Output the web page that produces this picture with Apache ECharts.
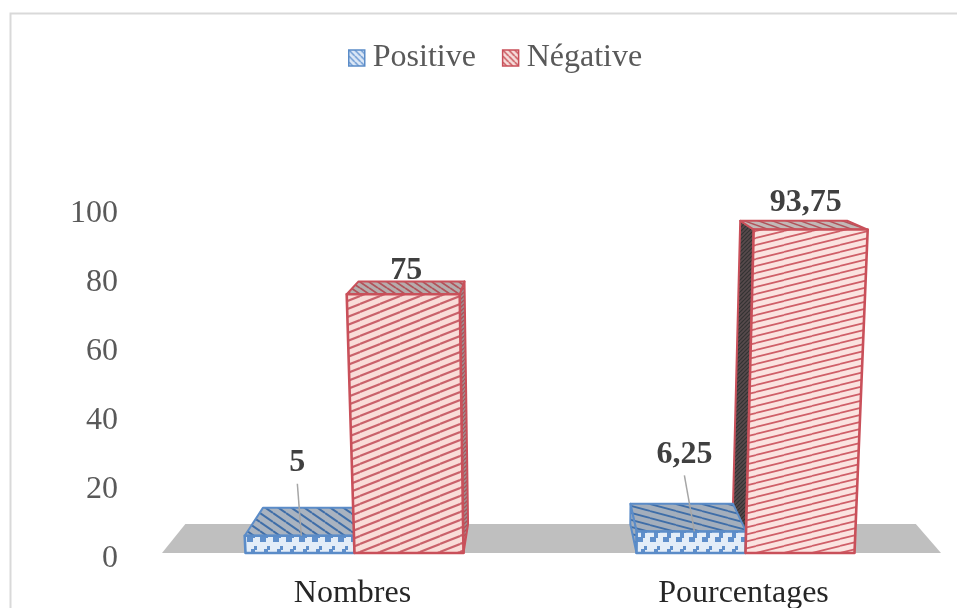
<!DOCTYPE html>
<html>
<head>
<meta charset="utf-8">
<style>html,body{margin:0;padding:0;background:#fff}#c{width:957px;height:608px}</style>
<script src="https://cdn.jsdelivr.net/npm/echarts@6/dist/echarts.min.js"></script>
</head>
<body>
<div id="c"></div>
<script>
var categories = ['Nombres', 'Pourcentages'];
var positive = [5, 6.25];
var negative = [75, 93.75];
var yTicks = [0, 20, 40, 60, 80, 100];

var FONT = '"Liberation Serif","Times New Roman",serif';
var LEAN_X = 567, DEPTH_X = 537, HORIZON_Y = 88, DEPTH = 0.0623, LEAN = 0.00049, BAR_W = 109, BAR_GAP = 2;

function tile(w, h, bg, line, lw, draw) {
  var c = document.createElement('canvas');
  c.width = w; c.height = h;
  var g = c.getContext('2d');
  g.fillStyle = bg; g.fillRect(0, 0, w, h);
  g.strokeStyle = line; g.fillStyle = line; g.lineWidth = lw;
  draw(g, w, h);
  return { image: c, repeat: 'repeat' };
}
function rising(g, w, h) {
  for (var i = -1; i <= 1; i++) {
    g.beginPath(); g.moveTo(0, h + i * h); g.lineTo(w, i * h); g.stroke();
  }
}
function falling(g, w, h) {
  for (var i = -1; i <= 1; i++) {
    g.beginPath(); g.moveTo(0, i * h); g.lineTo(w, h + i * h); g.stroke();
  }
}
function blocks(g, w, h) {
  g.fillRect(0, 10, 6, 5);
  g.fillRect(4, 5, 4, 6);
  g.fillRect(7, 2, 3, 4);
}
var patt = {
  negFront: tile(20, 8, '#f9dcd8', '#c9616a', 2.1, rising),
  negFront2: tile(28, 7, '#fbe3e0', '#cf5f68', 1.7, rising),
  negTop: tile(9, 6, '#b6acac', '#b0525a', 1.8, falling),
  negTop2: tile(14, 5, '#c2b8b6', '#b0525a', 1.5, falling),
  negSide: tile(4, 4, '#574a4c', '#333333', 1.2, rising),
  negSideLight: tile(4, 4, '#9f9193', '#a9525a', 1.3, rising),
  posFront: tile(13, 17, '#e3edf8', '#5f8fcb', 1, blocks),
  posTop: tile(13, 9, '#a9b3c0', '#3f6ea8', 2, falling),
  posTop2: tile(26, 7, '#a3aebc', '#3f6ea8', 1.8, falling),
  legPos: tile(6, 6, '#dbe7f6', '#6f9bd3', 1.5, falling),
  legNeg: tile(6, 6, '#f6dcda', '#c9555a', 1.5, falling)
};
var BLUE = '#5b8cc8', RED = '#c9505a';

function project(x, y, value, depth) {
  var fx = LEAN_X + (x - LEAN_X) * (1 + LEAN * value);
  var k = DEPTH * depth;
  return [fx + (DEPTH_X - fx) * k, y + (HORIZON_Y - y) * k];
}
function poly(points, fill, stroke, z2, lw) {
  return { type: 'polygon', z2: z2, shape: { points: points },
    style: { fill: fill, stroke: stroke, lineWidth: lw == null ? 2 : lw, lineJoin: 'round' } };
}
function makeBar(isPositive) {
  return function (params, api) {
    var cat = api.value(0), v = api.value(1);
    var cx = api.coord([cat, 0])[0];
    var y0 = api.coord([cat, 0])[1], y1 = api.coord([cat, v])[1];
    var xl = isPositive ? cx + BAR_GAP - BAR_W : cx + BAR_GAP;
    var xr = xl + BAR_W;
    var bl = project(xl, y0, 0, 0), br = project(xr, y0, 0, 0);
    var tl = project(xl, y1, v, 0), tr = project(xr, y1, v, 0);
    var bl2 = project(xl, y0, 0, 1), br2 = project(xr, y0, 0, 1);
    var tl2 = project(xl, y1, v, 1), tr2 = project(xr, y1, v, 1);
    var stroke = isPositive ? BLUE : RED;
    var kids = [];
    var zBase = isPositive ? 4 : 6;
    var posTop = cat === 1 ? patt.posTop2 : patt.posTop;
    if (xl > DEPTH_X) {
      kids.push(poly([tl2, tl, bl, bl2], isPositive ? posTop : patt.negSide, stroke, isPositive ? 4 : 1));
    }
    if (xr < DEPTH_X) {
      kids.push(poly([tr, tr2, br2, br], isPositive ? posTop : patt.negSideLight, stroke, isPositive ? 4 : 1));
    }
    var negTop = cat === 1 ? patt.negTop2 : patt.negTop;
    kids.push(poly([tl, tl2, tr2, tr], isPositive ? posTop : negTop, stroke, isPositive ? 4 : 2));
    var front = isPositive ? patt.posFront : (cat === 1 ? patt.negFront2 : patt.negFront);
    kids.push(poly([tl, tr, br, bl], front, stroke, zBase + 1, 2.6));
    var mid = (tl[0] + tr[0]) / 2;
    var labelX = mid + (isPositive ? (cat === 1 ? -7 : -2) : (cat === 1 ? -5 : 3));
    var labelY;
    if (isPositive) {
      labelY = tl[1] - (cat === 1 ? 77 : 73);
      kids.push({ type: 'line', z2: 8,
        shape: { x1: labelX, y1: labelY + 21, x2: mid + (cat === 1 ? 3 : 2), y2: tl[1] },
        style: { stroke: '#a6a6a6', lineWidth: 1.5 } });
    } else {
      labelY = tl[1] - (cat === 1 ? 27 : 24);
    }
    kids.push({ type: 'text', z2: 9,
      style: { text: String(v).replace('.', ','), x: labelX, y: labelY, align: 'center', verticalAlign: 'middle',
        fill: '#404040', font: 'bold 32px ' + FONT } });
    return { type: 'group', children: kids };
  };
}
function renderFloor(params, api) {
  var cs = params.coordSys;
  var y0 = api.coord([0, 0])[1];
  var xl = cs.x + 5, xr = cs.x + cs.width + 2;
  return { type: 'polygon', shape: { points: [project(xl, y0, 0, 0), project(xl, y0, 0, 1), project(xr, y0, 0, 1), project(xr, y0, 0, 0)] },
    style: { fill: '#bfbfbf' } };
}

var chart = echarts.init(document.getElementById('c'), null, { renderer: 'canvas' });
chart.setOption({
  animation: false,
  backgroundColor: '#fff',
  graphic: [{ type: 'polyline', silent: true, shape: { points: [[10.5, 608], [10.5, 13.5], [957, 13.5]] },
    style: { stroke: '#d9d9d9', lineWidth: 2, fill: null } }],
  legend: {
    top: 37, left: 343, itemWidth: 16, itemHeight: 16, itemGap: 26, selectedMode: false,
    textStyle: { fontFamily: FONT, fontSize: 32, color: '#595959', padding: [0, 0, 0, 3] },
    data: [
      { name: 'Positive', icon: 'rect', itemStyle: { color: patt.legPos, borderColor: BLUE, borderWidth: 1.5 } },
      { name: 'Négative', icon: 'rect', itemStyle: { color: patt.legNeg, borderColor: RED, borderWidth: 1.5 } }
    ]
  },
  grid: { left: 157, width: 782, top: 208, bottom: 55, outerBoundsMode: 'none' },
  xAxis: {
    type: 'category', data: categories,
    axisLine: { show: false }, axisTick: { show: false },
    axisLabel: { fontFamily: FONT, fontSize: 32, color: '#262626', margin: 25 }
  },
  yAxis: {
    type: 'value', min: yTicks[0], max: yTicks[yTicks.length - 1], interval: yTicks[1] - yTicks[0],
    axisLine: { show: false }, axisTick: { show: false }, splitLine: { show: false },
    axisLabel: { margin: 39, formatter: function (v) { return '{t|' + v + '}'; },
      rich: { t: { fontFamily: FONT, fontSize: 32, color: '#595959', padding: [11, 0, 0, 0] } } }
  },
  series: [
    { type: 'custom', name: 'Floor', z: 1, silent: true, renderItem: renderFloor, data: [[0, 0]], encode: { x: 0, y: 1 }, clip: false },
    { type: 'custom', name: 'Positive', z: 2, silent: true, renderItem: makeBar(true), itemStyle: { color: patt.legPos },
      data: positive.map(function (v, i) { return [i, v]; }), encode: { x: 0, y: 1 } },
    { type: 'custom', name: 'Négative', z: 2, silent: true, renderItem: makeBar(false), itemStyle: { color: patt.legNeg },
      data: negative.map(function (v, i) { return [i, v]; }), encode: { x: 0, y: 1 } }
  ]
});
</script>
</body>
</html>
